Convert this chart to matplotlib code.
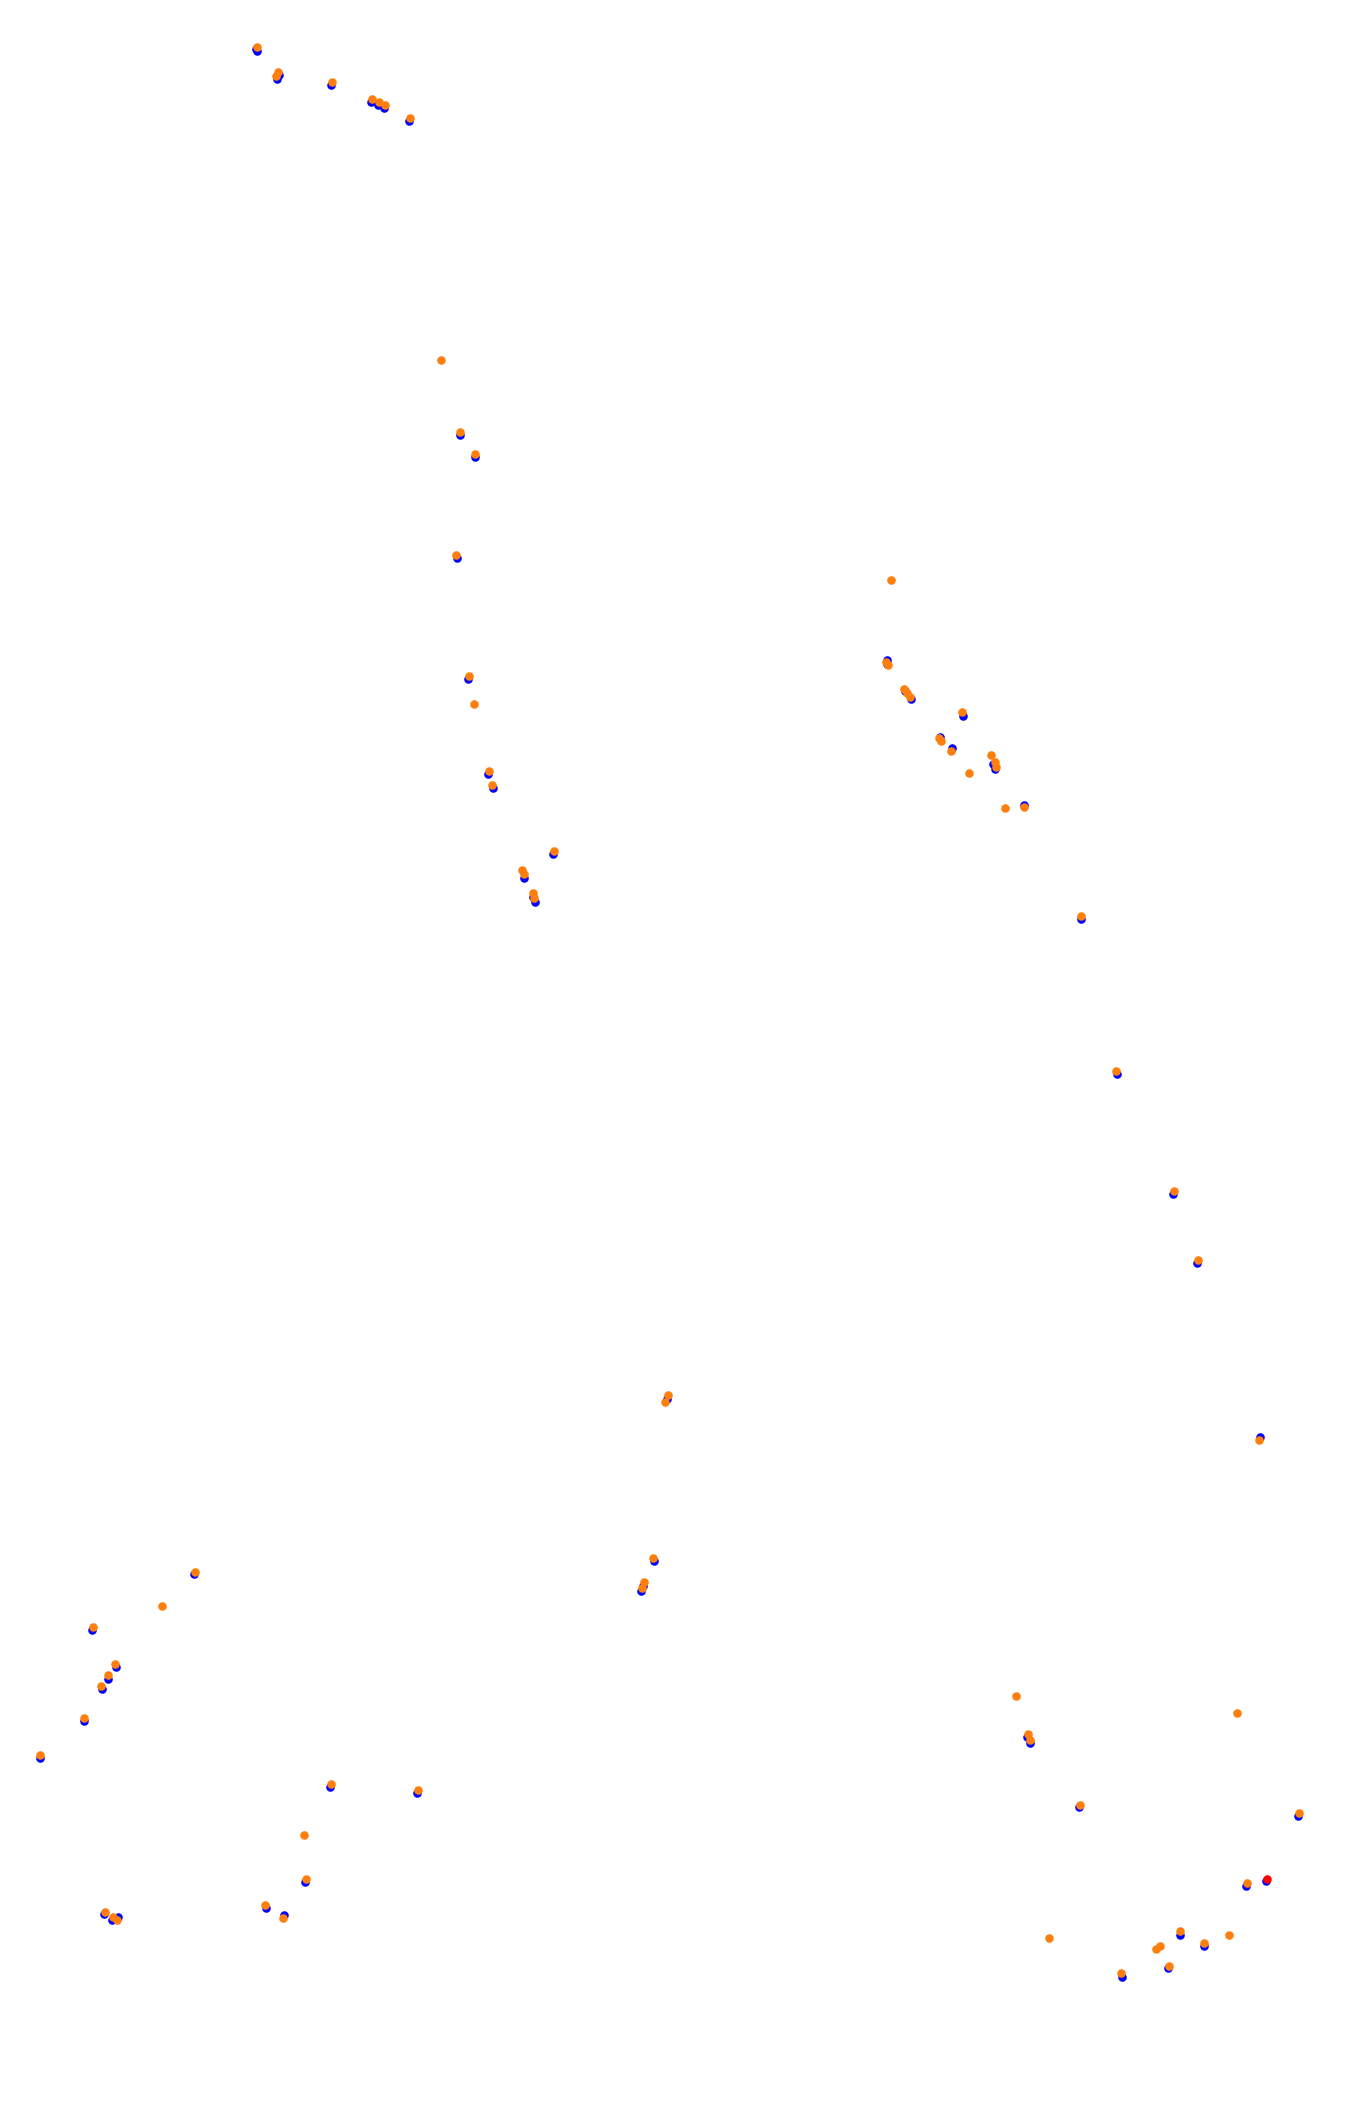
import numpy as np
import matplotlib
matplotlib.use("Agg")
import matplotlib.pyplot as plt

# positions (image-like coords, y grows downward)
blue_x = [257, 256, 277, 279, 331, 371, 378, 384, 409,
          460, 475, 457, 468, 488, 493, 553, 524, 535, 533,
          887, 887, 905, 911, 963, 940, 952, 995, 993, 1024,
          1081, 1117, 1173, 1197, 1260,
          667, 654, 643, 641,
          194, 92, 116, 108, 102, 84, 40,
          330, 417, 305, 266, 284, 104, 112, 118,
          1027, 1030, 1079, 1298, 1266, 1246, 1180, 1204, 1168, 1122]
blue_y = [51, 49, 79, 75, 85, 102, 105, 108, 121,
          435, 457, 558, 679, 774, 788, 854, 878, 902, 897,
          664, 660, 691, 699, 716, 737, 748, 769, 764, 805,
          919, 1074, 1194, 1263, 1437,
          1399, 1561, 1586, 1591,
          1574, 1630, 1667, 1679, 1689, 1721, 1758,
          1787, 1793, 1882, 1908, 1915, 1914, 1920, 1917,
          1737, 1743, 1807, 1816, 1881, 1886, 1935, 1946, 1968, 1977]

orange_x = [257, 278, 276, 332, 372, 379, 385, 410,
            441, 460, 475, 456, 469, 474, 489, 492, 554, 522, 524, 533, 534,
            891, 886, 888, 904, 907, 910, 962, 939, 941, 951, 991, 995, 996, 969, 1005, 1024,
            1081, 1116, 1174, 1198, 1259,
            668, 665, 653, 644, 642,
            195, 162, 93, 115, 108, 101, 84, 40,
            331, 418, 304, 306, 265, 283, 105, 113, 117,
            1016, 1028, 1030, 1080, 1237, 1299,
            1247, 1049, 1180, 1156, 1160, 1204, 1229, 1169, 1121]
orange_y = [47, 72, 76, 82, 99, 102, 105, 118,
            360, 432, 454, 555, 676, 704, 771, 785, 851, 870, 874, 893, 898,
            580, 662, 665, 689, 693, 697, 712, 738, 741, 751, 755, 762, 767, 773, 808, 807,
            916, 1071, 1191, 1260, 1440,
            1395, 1402, 1558, 1582, 1588,
            1572, 1606, 1627, 1664, 1675, 1686, 1718, 1755,
            1784, 1790, 1835, 1879, 1905, 1918, 1912, 1917, 1920,
            1696, 1734, 1740, 1805, 1713, 1813,
            1883, 1938, 1931, 1949, 1946, 1943, 1935, 1966, 1973]

red_x = [1267]
red_y = [1879]

fig = plt.figure(figsize=(13.47, 21.10), dpi=100)
ax = fig.add_axes([0, 0, 1, 1])
ax.scatter(blue_x, blue_y, s=38, c="#0000ff", linewidths=0, zorder=2)
ax.scatter(orange_x, orange_y, s=38, c="#ff7f0e", linewidths=0, zorder=3)
ax.scatter(red_x, red_y, s=38, c="#ff0000", linewidths=0, zorder=4)
ax.set_xlim(0, 1347)
ax.set_ylim(2110, 0)
ax.axis("off")

fig.savefig("out.png", dpi=100, facecolor="white")
